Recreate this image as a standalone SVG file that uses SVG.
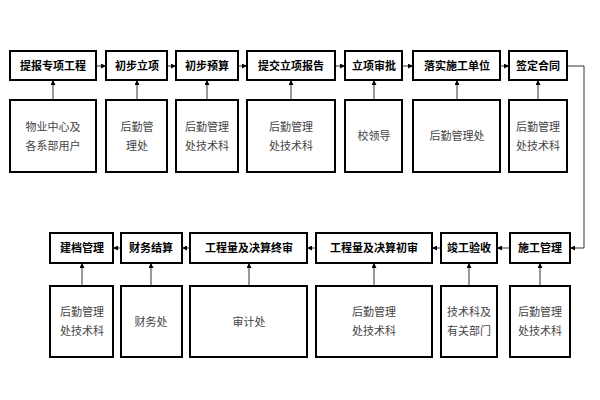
<svg xmlns="http://www.w3.org/2000/svg" width="600" height="400" viewBox="0 0 600 400">
<defs><marker id="a" viewBox="0 0 6 6" refX="6" refY="3" markerWidth="5" markerHeight="5" orient="auto"><path d="M0,0L6,3L0,6z" fill="#000"/></marker>
<style>rect{fill:#fff;stroke:#000;stroke-width:2}.h{font:bold 11px "Noto Sans CJK SC",sans-serif;text-anchor:middle}.s{font:11px "Noto Sans CJK SC",sans-serif;text-anchor:middle;fill:#444}.c line,.c path{stroke:#333;stroke-width:1;fill:none;marker-end:url(#a)}</style></defs>
<rect x="0" y="0" width="600" height="400" style="stroke:none"/>
<g class="c">
<line x1="96" y1="66" x2="106" y2="66"/><line x1="167" y1="66" x2="176" y2="66"/><line x1="238" y1="66" x2="247" y2="66"/><line x1="335" y1="66" x2="345" y2="66"/><line x1="402" y1="66" x2="413" y2="66"/><line x1="500" y1="66" x2="509" y2="66"/>
<path d="M567,66H584V248H570"/>
<line x1="510" y1="248" x2="497" y2="248"/><line x1="441" y1="248" x2="432" y2="248"/><line x1="316" y1="248" x2="307" y2="248"/><line x1="190" y1="248" x2="182" y2="248"/><line x1="121" y1="248" x2="113" y2="248"/>
<line x1="53" y1="100" x2="53" y2="80"/><line x1="137" y1="100" x2="137" y2="80"/><line x1="207" y1="100" x2="207" y2="80"/><line x1="291" y1="100" x2="291" y2="80"/><line x1="374" y1="100" x2="374" y2="80"/><line x1="457" y1="100" x2="457" y2="80"/><line x1="538" y1="100" x2="538" y2="80"/>
<line x1="82" y1="286" x2="82" y2="263"/><line x1="151" y1="286" x2="151" y2="263"/><line x1="249" y1="286" x2="249" y2="263"/><line x1="374" y1="286" x2="374" y2="263"/><line x1="469" y1="286" x2="469" y2="263"/><line x1="540" y1="286" x2="540" y2="263"/>
</g>
<g id="n1"><rect x="10" y="51" width="86" height="29"/><text class="h" x="53" y="70">提报专项工程</text></g>
<g id="n2"><rect x="106" y="51" width="61" height="29"/><text class="h" x="137" y="70">初步立项</text></g>
<g id="n3"><rect x="176" y="51" width="62" height="29"/><text class="h" x="207" y="70">初步预算</text></g>
<g id="n4"><rect x="247" y="51" width="88" height="29"/><text class="h" x="291" y="70">提交立项报告</text></g>
<g id="n5"><rect x="345" y="51" width="57" height="29"/><text class="h" x="374" y="70">立项审批</text></g>
<g id="n6"><rect x="413" y="51" width="87" height="29"/><text class="h" x="457" y="70">落实施工单位</text></g>
<g id="n7"><rect x="509" y="51" width="58" height="29"/><text class="h" x="538" y="70">签定合同</text></g>
<g id="r1"><rect x="10" y="100" width="86" height="72"/><text class="s" x="53" y="131">物业中心及</text><text class="s" x="53" y="150">各系部用户</text></g>
<g id="r2"><rect x="106" y="100" width="61" height="72"/><text class="s" x="137" y="131">后勤管</text><text class="s" x="137" y="150">理处</text></g>
<g id="r3"><rect x="176" y="100" width="62" height="72"/><text class="s" x="207" y="131">后勤管理</text><text class="s" x="207" y="150">处技术科</text></g>
<g id="r4"><rect x="247" y="100" width="88" height="72"/><text class="s" x="291" y="131">后勤管理</text><text class="s" x="291" y="150">处技术科</text></g>
<g id="r5"><rect x="345" y="100" width="57" height="72"/><text class="s" x="374" y="140">校领导</text></g>
<g id="r6"><rect x="413" y="100" width="87" height="72"/><text class="s" x="457" y="140">后勤管理处</text></g>
<g id="r7"><rect x="509" y="100" width="58" height="72"/><text class="s" x="538" y="131">后勤管理</text><text class="s" x="538" y="150">处技术科</text></g>
<g id="m1"><rect x="50" y="233" width="63" height="30"/><text class="h" x="82" y="252">建档管理</text></g>
<g id="m2"><rect x="121" y="233" width="61" height="30"/><text class="h" x="151" y="252">财务结算</text></g>
<g id="m3"><rect x="190" y="233" width="117" height="30"/><text class="h" x="249" y="252">工程量及决算终审</text></g>
<g id="m4"><rect x="316" y="233" width="116" height="30"/><text class="h" x="374" y="252">工程量及决算初审</text></g>
<g id="m5"><rect x="441" y="233" width="56" height="30"/><text class="h" x="469" y="252">竣工验收</text></g>
<g id="m6"><rect x="510" y="233" width="60" height="30"/><text class="h" x="540" y="252">施工管理</text></g>
<g id="b1"><rect x="50" y="286" width="63" height="71"/><text class="s" x="82" y="316">后勤管理</text><text class="s" x="82" y="335">处技术科</text></g>
<g id="b2"><rect x="121" y="286" width="61" height="71"/><text class="s" x="151" y="326">财务处</text></g>
<g id="b3"><rect x="190" y="286" width="117" height="71"/><text class="s" x="249" y="326">审计处</text></g>
<g id="b4"><rect x="316" y="286" width="116" height="71"/><text class="s" x="374" y="316">后勤管理</text><text class="s" x="374" y="335">处技术科</text></g>
<g id="b5"><rect x="441" y="286" width="56" height="71"/><text class="s" x="469" y="316">技术科及</text><text class="s" x="469" y="335">有关部门</text></g>
<g id="b6"><rect x="510" y="286" width="60" height="71"/><text class="s" x="540" y="316">后勤管理</text><text class="s" x="540" y="335">处技术科</text></g>
</svg>
